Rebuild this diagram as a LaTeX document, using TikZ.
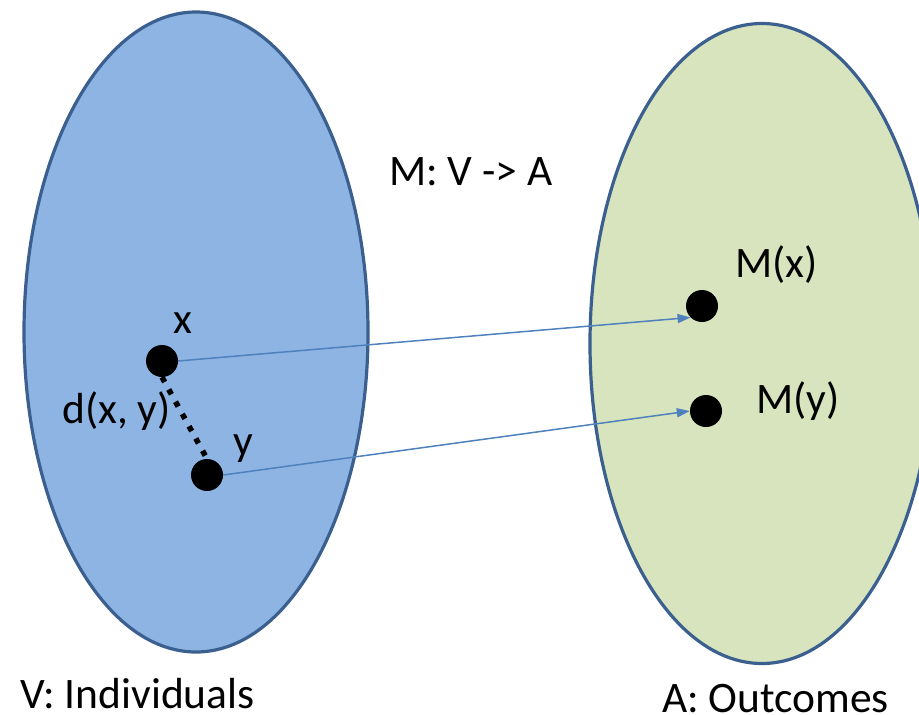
\documentclass[tikz,border=0pt]{standalone}
\usepackage{fontspec}
\setmainfont{Carlito}
\usetikzlibrary{arrows.meta}
\definecolor{vfill}{HTML}{8EB4E3}
\definecolor{afill}{HTML}{D7E4BD}
\definecolor{edgeblue}{HTML}{3B6090}
\definecolor{arrowblue}{HTML}{4F81BD}
\tikzset{
  setshape/.style={draw=edgeblue, line width=3.2pt},
  dotnode/.style={circle, fill=black, minimum size=32pt, inner sep=0pt},
  lbl/.style={anchor=base west, inner sep=0pt, font=\fontsize{43.5}{50}\selectfont},
  maparrow/.style={draw=arrowblue, line width=1.5pt, -{Triangle[length=13pt,width=9pt]}},
  distline/.style={line width=5.5pt, dash pattern=on 5.5pt off 8.5pt}
}
\begin{document}
\begin{tikzpicture}[x=1pt,y=-1pt]
\useasboundingbox (0,0) rectangle (919,715);
\begin{scope}
\clip (0,0) rectangle (919,715);
\path[setshape, fill=vfill] (196,332) ellipse [x radius=172, y radius=320];
\path[setshape, fill=afill] (762,343.5) ellipse [x radius=172, y radius=320];
\end{scope}
\node[dotnode] (xd) at (162,361) {};
\node[dotnode] (yd) at (207,475) {};
\node[dotnode] (mx) at (702,306) {};
\node[dotnode] (my) at (706,411) {};
\draw[distline] (xd.south) -- (yd.north);
\draw[maparrow] (xd.east) -- (mx.south west);
\draw[maparrow] (yd.east) -- (my.west);
\node[lbl] (lx) at (173,333) {x};
\node[lbl] (ly) at (233,455) {y};
\node[lbl] (ld) at (62,423) {d(x, y)};
\node[lbl] (lmx) at (735,277) {M(x)};
\node[lbl] (lmy) at (756,413) {M(y)};
\node[lbl] (lm) at (389,185) {M: V -> A};
\node[lbl] (lv) at (20,708) {V: Individuals};
\node[lbl] (la) at (662,712) {A: Outcomes};
\end{tikzpicture}
\end{document}
